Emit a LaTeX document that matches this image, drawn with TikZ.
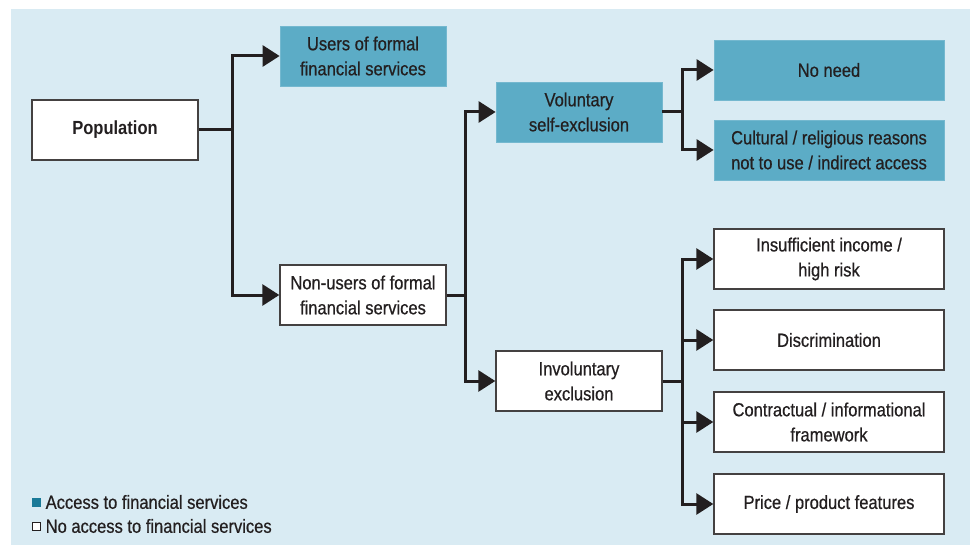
\documentclass[tikz,border=0pt]{standalone}
\usepackage{fontspec}
\setmainfont{Liberation Sans}[FakeStretch=0.87, FakeBold=0.6]
\newfontfamily\heavyfont{Liberation Sans}[FakeStretch=0.87]
\usepackage{tikz}
\usetikzlibrary{arrows.meta,positioning,calc}
\definecolor{bgblue}{RGB}{217,235,243}
\definecolor{boxteal}{RGB}{92,172,198}
\definecolor{legteal}{RGB}{26,122,152}
\definecolor{inkcolor}{RGB}{35,31,32}

\tikzset{
    box/.style={draw=inkcolor!85, line width=1.4pt, fill=white, text=inkcolor,
                minimum width=166pt, minimum height=60pt, inner sep=0pt,
                align=center, font=\fontsize{19}{25}\selectfont},
    widebox/.style={box, minimum width=230pt},
    accbox/.style={fill=boxteal, draw=boxteal!85!white, line width=0.8pt},
    link/.style={draw=inkcolor, line width=3pt,
                 -{Triangle[length=17pt,width=21pt]}},
    legsq/.style={minimum size=8pt, inner sep=0pt, line width=1pt},
    legtext/.style={inner sep=0pt, text=inkcolor, font=\fontsize{19}{24}\selectfont}
}

\begin{document}
\begin{tikzpicture}[x=1pt, y=-1pt]
    \useasboundingbox (0,0) rectangle (976,545);
    \fill[bgblue] (11,9) rectangle (970,545);

    % first level
    \node[box, font=\fontsize{19}{25}\heavyfont\bfseries] (pop) at (115,130) {Population};
    \node[box, accbox] (users) at (363,56) {Users of formal\\financial services};
    \node[box] (nonusers) at (363,295) {Non-users of formal\\financial services};

    % second level
    \node[box, accbox] (vol) at (579,112) {Voluntary\\self-exclusion};
    \node[box] (invol) at (579,381) {Involuntary\\exclusion};

    % reasons
    \node[widebox, accbox] (noneed) at (829,70) {No need};
    \node[widebox, accbox] (cultural) at (829,150) {Cultural / religious reasons\\not to use / indirect access};
    \node[widebox] (income) at (829,259) {Insufficient income /\\high risk};
    \node[widebox] (discr) at (829,340) {Discrimination};
    \node[widebox] (contract) at (829,422) {Contractual / informational\\framework};
    \node[widebox] (price) at (829,504) {Price / product features};

    % junctions
    \coordinate (j1) at (232,130);
    \coordinate (j2) at (465,295);
    \coordinate (j3) at (682,112);
    \coordinate (j4) at (682,381);

    \draw[link] (pop.east) -- (j1) |- (users.west);
    \draw[link] (j1) |- (nonusers.west);
    \draw[link] (nonusers.east) -- (j2) |- (vol.west);
    \draw[link] (j2) |- (invol.west);
    \draw[link] (vol.east) -- (j3) |- (noneed.west);
    \draw[link] (j3) |- (cultural.west);
    \draw[link] (invol.east) -- (j4) |- (income.west);
    \draw[link] (j4) |- (discr.west);
    \draw[link] (j4) |- (contract.west);
    \draw[link] (j4) |- (price.west);

    % legend
    \node[legsq, fill=legteal, draw=legteal] (sqacc) at (36,502) {};
    \node[legtext, right=5pt of sqacc] (legacc) {Access to financial services};
    \node[legsq, fill=white, draw=inkcolor] (sqno) at (36,526) {};
    \node[legtext, right=5pt of sqno] (legno) {No access to financial services};
\end{tikzpicture}
\end{document}
